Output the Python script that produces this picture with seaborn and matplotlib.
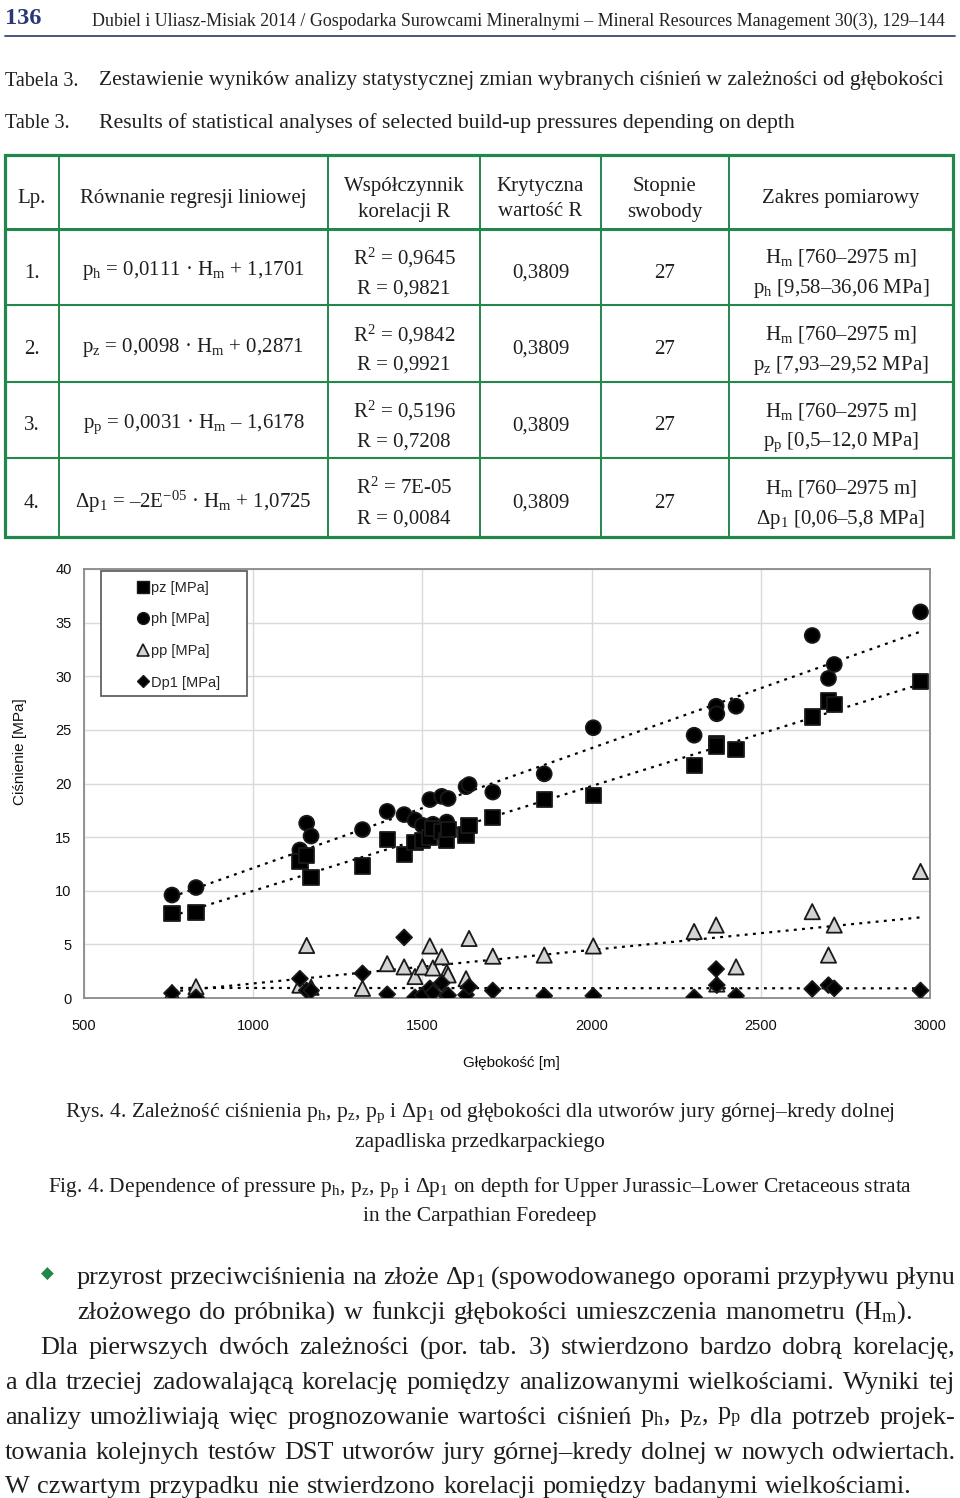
import numpy as np
import pandas as pd
import matplotlib
matplotlib.use("Agg")
import matplotlib.pyplot as plt
import seaborn as sns
from matplotlib.patches import Rectangle
from matplotlib.lines import Line2D

# ---------------- data ----------------
depth = [760, 831, 1138, 1158, 1171, 1323, 1396, 1446, 1478, 1500, 1522, 1531, 1557, 1572,
         1576, 1629, 1638, 1708, 1860, 2005, 2303, 2368, 2370, 2427, 2652, 2700, 2717, 2972]
ph = [9.6, 10.3, 13.8, 16.3, 15.1, 15.7, 17.4, 17.1, 16.6, 16.1, 18.5, 16.2, 18.8, 16.4,
      18.6, 19.7, 19.9, 19.2, 20.9, 25.2, 24.5, 27.2, 26.5, 27.2, 33.8, 29.8, 31.1, 36.0]
pz = [7.9, 8.0, 12.7, 13.3, 11.2, 12.3, 14.8, 13.4, 14.5, 14.7, 15.0, 15.8, 15.5, 14.7,
      15.7, 15.2, 16.1, 16.8, 18.5, 18.9, 21.7, 23.7, 23.5, 23.2, 26.2, 27.7, 27.4, 29.5]
pp = [0.5, 1.05, 1.2, 4.9, 1.0, 0.9, 3.2, 2.9, 2.0, 2.9, 4.85, 2.8, 3.85, 2.4,
      2.15, 1.8, 5.55, 3.9, 4.0, 4.85, 6.2, 6.8, 1.3, 2.9, 8.05, 4.0, 6.8, 11.8]
dp1 = [0.45, 0.06, 1.8, 0.7, 0.7, 2.3, 0.35, 5.65, 0.06, 0.25, 0.9, 0.5, 1.4, 0.2,
       0.25, 0.3, 1.05, 0.7, 0.2, 0.2, 0.06, 2.7, 1.2, 0.2, 0.85, 1.2, 0.9, 0.7]

series_names = ["pz [MPa]", "ph [MPa]", "pp [MPa]", "Dp1 [MPa]"]
x_ticks = [500, 1000, 1500, 2000, 2500, 3000]
y_ticks = [0, 5, 10, 15, 20, 25, 30, 35, 40]
x_label = "Głębokość [m]"
y_label = "Ciśnienie [MPa]"

table_header = ["Lp.", "Równanie regresji liniowej", "Współczynnik\nkorelacji R",
                "Krytyczna\nwartość R", "Stopnie\nswobody", "Zakres pomiarowy"]
table_lp = ["1.", "2.", "3.", "4."]
table_eq = [r"$\mathregular{p_h}$ = 0,0111 · $\mathregular{H_m}$ + 1,1701",
            r"$\mathregular{p_z}$ = 0,0098 · $\mathregular{H_m}$ + 0,2871",
            r"$\mathregular{p_p}$ = 0,0031 · $\mathregular{H_m}$ – 1,6178",
            r"Δ$\mathregular{p_1}$ = –2E$\mathregular{^{-05}}$ · $\mathregular{H_m}$ + 1,0725"]
table_r2 = [r"R$\mathregular{^2}$ = 0,9645", r"R$\mathregular{^2}$ = 0,9842",
            r"R$\mathregular{^2}$ = 0,5196", r"R$\mathregular{^2}$ = 7E-05"]
table_r = ["R = 0,9821", "R = 0,9921", "R = 0,7208", "R = 0,0084"]
table_rcrit = ["0,3809", "0,3809", "0,3809", "0,3809"]
table_df = ["27", "27", "27", "27"]
table_range = [r"$\mathregular{p_h}$ [9,58–36,06 MPa]", r"$\mathregular{p_z}$ [7,93–29,52 MPa]",
               r"$\mathregular{p_p}$ [0,5–12,0 MPa]", r"Δ$\mathregular{p_1}$ [0,06–5,8 MPa]"]
range_depth = r"$\mathregular{H_m}$ [760–2975 m]"

header_num = "136"
header_txt = "Dubiel i Uliasz-Misiak 2014 / Gospodarka Surowcami Mineralnymi – Mineral Resources Management 30(3), 129–144"
caption_pl = [r"Rys. 4. Zależność ciśnienia $\mathregular{p_h}$, $\mathregular{p_z}$, $\mathregular{p_p}$ i Δ$\mathregular{p_1}$ od głębokości dla utworów jury górnej–kredy dolnej",
              "zapadliska przedkarpackiego"]
caption_en = [r"Fig. 4. Dependence of pressure $\mathregular{p_h}$, $\mathregular{p_z}$, $\mathregular{p_p}$ i Δ$\mathregular{p_1}$ on depth for Upper Jurassic–Lower Cretaceous strata",
              "in the Carpathian Foredeep"]
body_lines = [
    r"przyrost przeciwciśnienia na złoże Δ$\mathregular{p_1}$ (spowodowanego oporami przypływu płynu",
    r"złożowego do próbnika) w funkcji głębokości umieszczenia manometru ($\mathregular{H_m}$).",
    "Dla pierwszych dwóch zależności (por. tab. 3) stwierdzono bardzo dobrą korelację,",
    "a dla trzeciej zadowalającą korelację pomiędzy analizowanymi wielkościami. Wyniki tej",
    r"analizy umożliwiają więc prognozowanie wartości ciśnień $\mathregular{p_h}$, $\mathregular{p_z}$, $\mathregular{p_p}$ dla potrzeb projek-",
    "towania kolejnych testów DST utworów jury górnej–kredy dolnej w nowych odwiertach.",
    "W czwartym przypadku nie stwierdzono korelacji pomiędzy badanymi wielkościami.",
]

# ---------------- style ----------------
sns.set_style("white")
plt.rcParams["font.family"] = ["Liberation Serif", "DejaVu Serif"]
plt.rcParams["mathtext.fontset"] = "custom"
plt.rcParams["mathtext.rm"] = "Liberation Serif"
plt.rcParams["mathtext.it"] = "Liberation Serif:italic"
plt.rcParams["mathtext.bf"] = "Liberation Serif:bold"

GREEN = "#22874a"
INK = "#1e1e1e"
SERIF = ["Liberation Serif", "DejaVu Serif"]
SANS = ["Liberation Sans", "DejaVu Sans"]

fig = plt.figure(figsize=(9.6, 14.98), dpi=100)
renderer = fig.canvas.get_renderer()

page = fig.add_axes([0, 0, 1, 1])
page.set_xlim(0, 960)
page.set_ylim(1498, 0)
page.axis("off")


def txt(x, y, s, size, ha="left", va="center", family=SERIF, dy=3, color=INK, **kw):
    return page.text(x, y + dy, s, fontsize=size, ha=ha, va=va, family=family, color=color, **kw)


def fit(t, width):
    w = t.get_window_extent(renderer).width
    t.set_fontsize(t.get_fontsize() * width / w)
    return t


def word_widths(s, size):
    objs = [txt(0, 0, w, size) for w in s.split(" ")]
    ws = [o.get_window_extent(renderer).width for o in objs]
    for o in objs:
        o.remove()
    return ws


def justify(s, x0, x1, y, size):
    words = s.split(" ")
    objs = [txt(0, y, w, size) for w in words]
    widths = [o.get_window_extent(renderer).width for o in objs]
    gap = (x1 - x0 - sum(widths)) / max(len(words) - 1, 1)
    x = x0
    for o, w in zip(objs, widths):
        o.set_x(x)
        x += w + gap


# ---------------- header ----------------
txt(5, 18, header_num, 17.5, fontweight="bold", color="#2a3878", dy=0)
fit(txt(92, 21, header_txt, 12.5, color="#222222", dy=0), 858)
page.plot([5, 955], [36, 36], color="#3b4670", lw=1.3)

txt(5, 78, "Tabela 3.", 14.5)
fit(txt(99, 78, "Zestawienie wyników analizy statystycznej zmian wybranych ciśnień w zależności od głębokości", 14.5), 842)
txt(5, 120, "Table 3.", 14.5)
fit(txt(99, 120, "Results of statistical analyses of selected build-up pressures depending on depth", 14.5), 696)

# ---------------- table ----------------
col_x = [5, 59, 328, 480, 601, 729, 953]
row_y = [155, 229, 305, 382, 458, 537]
for x in col_x[1:-1]:
    page.plot([x, x], [row_y[0], row_y[-1]], color=GREEN, lw=1.4)
for y in row_y[2:-1]:
    page.plot([col_x[0], col_x[-1]], [y, y], color=GREEN, lw=1.5)
page.plot([col_x[0], col_x[-1]], [row_y[1], row_y[1]], color=GREEN, lw=2.2)
page.add_patch(Rectangle((col_x[0], row_y[0]), col_x[-1] - col_x[0], row_y[-1] - row_y[0],
                         fill=False, edgecolor=GREEN, lw=2.3))
centers = [(col_x[i] + col_x[i + 1]) / 2 for i in range(6)]
TS = 15
for i, h in enumerate(table_header):
    parts = h.split("\n")
    if len(parts) == 1:
        txt(centers[i], 196, parts[0], TS, ha="center")
    else:
        txt(centers[i], 183, parts[0], TS, ha="center")
        txt(centers[i], 209, parts[1], TS, ha="center")
for r in range(4):
    yc = (row_y[r + 1] + row_y[r + 2]) / 2
    txt(centers[0], yc + 3, table_lp[r], TS, ha="center")
    txt(centers[1], yc + 1, table_eq[r], TS, ha="center")
    txt(centers[2], yc - 12, table_r2[r], TS, ha="center")
    txt(centers[2], yc + 19, table_r[r], TS, ha="center")
    txt(centers[3], yc + 3, table_rcrit[r], TS, ha="center")
    txt(centers[4], yc + 3, table_df[r], TS, ha="center")
    txt(centers[5], yc - 12, range_depth, TS, ha="center")
    txt(centers[5], yc + 19, table_range[r], TS, ha="center")

# ---------------- chart ----------------
ax = fig.add_axes([84 / 960, (1498 - 998) / 1498, 846 / 960, 429 / 1498])
ax.set_facecolor("white")

df = pd.DataFrame({
    "Głębokość": depth * 4,
    "Ciśnienie": ph + pz + pp + dp1,
    "series": ([series_names[1]] * len(depth) + [series_names[0]] * len(depth)
               + [series_names[2]] * len(depth) + [series_names[3]] * len(depth)),
})

for vals in [ph, pz, pp, dp1]:
    sns.regplot(x=np.array(depth, dtype=float), y=np.array(vals, dtype=float), scatter=False,
                ci=None, truncate=True, ax=ax, color="black",
                line_kws=dict(lw=1.6, linestyle=(0, (1.3, 2.4)), zorder=2))

markers = {series_names[0]: "s", series_names[1]: "o", series_names[2]: "^", series_names[3]: "D"}
palette = {series_names[0]: "#000000", series_names[1]: "#000000",
           series_names[2]: "#d3d3d3", series_names[3]: "#000000"}
sizes = {series_names[0]: 120, series_names[1]: 115, series_names[2]: 120, series_names[3]: 65}
sns.scatterplot(data=df, x="Głębokość", y="Ciśnienie", hue="series", style="series",
                size="series", markers=markers, palette=palette, sizes=sizes,
                edgecolor="#1a1a1a", linewidth=1.3, legend=False, ax=ax, zorder=3)

ax.set_xlim(500, 3000)
ax.set_ylim(0, 40)
ax.set_xticks(x_ticks)
ax.set_yticks(y_ticks)
ax.set_xticklabels([str(v) for v in x_ticks])
ax.set_yticklabels([str(v) for v in y_ticks])
ax.grid(True, color="#d9d9d9", lw=1.0)
ax.set_axisbelow(True)
for sp in ax.spines.values():
    sp.set_visible(True)
    sp.set_color("#8a8a8a")
    sp.set_linewidth(1.3)
ax.tick_params(axis="both", length=0, labelsize=10.5, colors="#111111")
ax.tick_params(axis="x", pad=15)
ax.tick_params(axis="y", pad=9)
for lab in ax.get_xticklabels() + ax.get_yticklabels():
    lab.set_family(SANS)
ax.set_xlabel(x_label, fontsize=11, family=SANS, color="#111111")
ax.set_ylabel(y_label, fontsize=11, family=SANS, color="#111111")
ax.xaxis.set_label_coords((511 - 84) / 846, (998 - 1056) / 429)
ax.yaxis.set_label_coords((27 - 84) / 846, (998 - 752) / 429)


def axx(px):
    return (px - 84) / 846


def axy(py):
    return (998 - py) / 429


ax.add_patch(Rectangle((axx(101), axy(696)), axx(247) - axx(101), axy(571) - axy(696),
                       transform=ax.transAxes, facecolor="white", edgecolor="#555555",
                       lw=1.2, zorder=4))
handles = [
    Line2D([], [], marker="s", color="black", ls="none", markersize=8.5, markeredgecolor="#1a1a1a"),
    Line2D([], [], marker="o", color="black", ls="none", markersize=8.5, markeredgecolor="#1a1a1a"),
    Line2D([], [], marker="^", color="#d3d3d3", ls="none", markersize=8.5, markeredgecolor="#1a1a1a",
           markeredgewidth=1.2),
    Line2D([], [], marker="D", color="black", ls="none", markersize=6.5, markeredgecolor="#1a1a1a"),
]
leg = ax.legend(handles, series_names, loc="upper left", bbox_to_anchor=(axx(136), axy(581)),
                frameon=False, handlelength=0.9, handletextpad=0.1, labelspacing=1.2,
                borderaxespad=0, borderpad=0, prop=dict(family=SANS, size=10.5))
leg.set_zorder(5)

# ---------------- captions ----------------
t = fit(txt(480, 1110, caption_pl[0], 13, ha="center"), 827)
txt(480, 1139, caption_pl[1], t.get_fontsize(), ha="center")
t = fit(txt(480, 1185, caption_en[0], 13, ha="center"), 865)
txt(480, 1213, caption_en[1], t.get_fontsize(), ha="center")

# ---------------- body text ----------------
txt(47, 1274, "◆", 12, ha="center", family=["DejaVu Sans"], color=GREEN, dy=0)
body_pos = [(77, 955, 1275), (77, 912, 1310), (40, 955, 1345), (5, 955, 1380),
            (5, 955, 1415), (5, 955, 1450), (5, 912, 1484)]
# common font size: largest that leaves a normal word gap on every line
min_gap = 6.0
cand = []
for s, (x0, x1, y) in zip(body_lines, body_pos):
    ws = word_widths(s, 10)
    n = len(ws) - 1
    cand.append((x1 - x0 - min_gap * n) / sum(ws) * 10)
body_size = min(cand)
for s, (x0, x1, y) in zip(body_lines, body_pos):
    justify(s, x0, x1, y, body_size)

fig.savefig("out.png", dpi=100)
